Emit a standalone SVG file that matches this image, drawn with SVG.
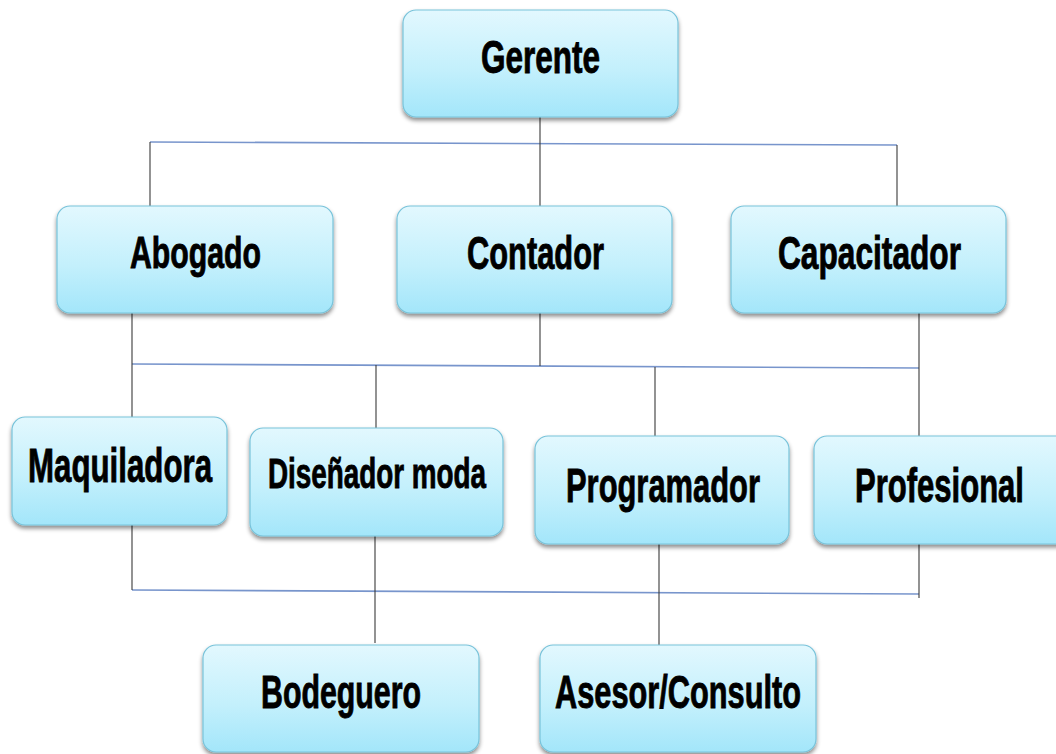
<svg xmlns="http://www.w3.org/2000/svg" width="1056" height="754" viewBox="0 0 1056 754">
<defs>
<linearGradient id="g" x1="0" y1="0" x2="0" y2="1">
<stop offset="0" stop-color="#e2f8fe"/>
<stop offset="0.55" stop-color="#c4f0fc"/>
<stop offset="1" stop-color="#a3e6fa"/>
</linearGradient>
<filter id="sh" x="-10%" y="-10%" width="120%" height="130%">
<feDropShadow dx="0" dy="3" stdDeviation="2" flood-color="#000" flood-opacity="0.45"/>
</filter>
</defs>
<style>
.box{fill:url(#g);stroke:#78c3da;stroke-width:1.2;filter:url(#sh)}
.t{font-family:"Liberation Sans",Arial,sans-serif;font-weight:bold;fill:#000;stroke:#000;stroke-width:0.9}
.h{stroke:#7895cc;stroke-width:1.6;fill:none}
.v{stroke:#3a3a3a;stroke-width:1.1;fill:none}
</style>
<rect width="1056" height="754" fill="#fff"/>
<g id="connectors">
<line class="h" x1="150" y1="142" x2="897" y2="145"/>
<line class="v" x1="540" y1="117" x2="540" y2="206"/>
<line class="v" x1="150" y1="142" x2="150" y2="206"/>
<line class="v" x1="897" y1="145" x2="897" y2="208"/>
<line class="h" x1="132" y1="364" x2="919" y2="368"/>
<line class="v" x1="132" y1="313" x2="132" y2="417"/>
<line class="v" x1="540" y1="313" x2="540" y2="366"/>
<line class="v" x1="919" y1="313" x2="919" y2="436"/>
<line class="v" x1="376" y1="365" x2="376" y2="430"/>
<line class="v" x1="655" y1="367" x2="655" y2="436"/>
<line class="h" x1="132" y1="590" x2="919" y2="594"/>
<line class="v" x1="132" y1="525" x2="132" y2="590"/>
<line class="v" x1="375" y1="536" x2="375" y2="643"/>
<line class="v" x1="659" y1="544" x2="659" y2="645"/>
<line class="v" x1="919" y1="544" x2="919" y2="598"/>
</g>
<g id="gerente"><rect class="box" x="403" y="10" width="275" height="107" rx="13"/><text class="t" x="481" y="73" font-size="46" textLength="119" lengthAdjust="spacingAndGlyphs">Gerente</text></g>
<g id="abogado"><rect class="box" x="57" y="206" width="276" height="107" rx="13"/><text class="t" x="130" y="268" font-size="45" textLength="131" lengthAdjust="spacingAndGlyphs">Abogado</text></g>
<g id="contador"><rect class="box" x="397" y="206" width="275" height="107" rx="13"/><text class="t" x="467" y="269" font-size="46" textLength="137" lengthAdjust="spacingAndGlyphs">Contador</text></g>
<g id="capacitador"><rect class="box" x="731" y="206" width="275" height="107" rx="13"/><text class="t" x="778" y="269" font-size="46" textLength="183" lengthAdjust="spacingAndGlyphs">Capacitador</text></g>
<g id="maquiladora"><rect class="box" x="12" y="417" width="215" height="108" rx="13"/><text class="t" x="28" y="482" font-size="48" textLength="184" lengthAdjust="spacingAndGlyphs">Maquiladora</text></g>
<g id="disenador"><rect class="box" x="250" y="428" width="253" height="108" rx="13"/><text class="t" x="268" y="488" font-size="43" textLength="218" lengthAdjust="spacingAndGlyphs">Diseñador moda</text></g>
<g id="programador"><rect class="box" x="535" y="436" width="254" height="108" rx="13"/><text class="t" x="566" y="502" font-size="48" textLength="194" lengthAdjust="spacingAndGlyphs">Programador</text></g>
<g id="profesional"><rect class="box" x="814" y="436" width="256" height="108" rx="13"/><text class="t" x="855" y="502" font-size="48" textLength="169" lengthAdjust="spacingAndGlyphs">Profesional</text></g>
<g id="bodeguero"><rect class="box" x="203" y="645" width="276" height="107" rx="13"/><text class="t" x="261" y="708" font-size="46" textLength="160" lengthAdjust="spacingAndGlyphs">Bodeguero</text></g>
<g id="asesor"><rect class="box" x="540" y="645" width="276" height="107" rx="13"/><text class="t" x="555" y="708" font-size="46" textLength="246" lengthAdjust="spacingAndGlyphs">Asesor/Consulto</text></g>
</svg>
